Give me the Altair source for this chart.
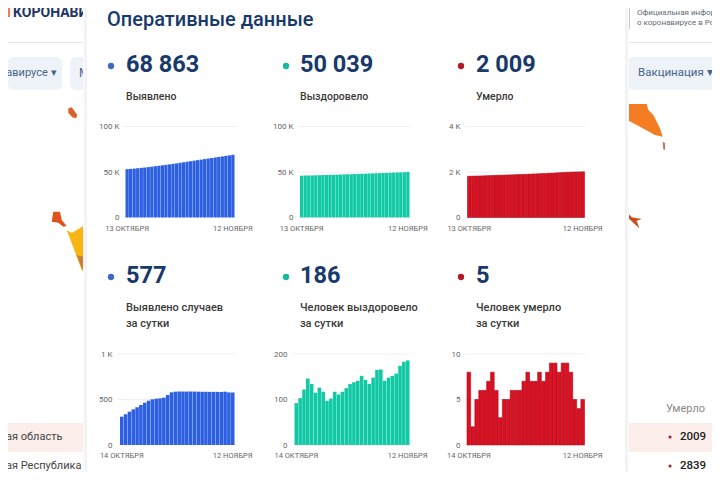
import altair as alt

OCT = [f"{d} ОКТЯБРЯ" for d in range(13, 32)]
NOV = [f"{d} НОЯБРЯ" for d in range(1, 13)]
DAYS_31 = OCT + NOV
DAYS_30 = DAYS_31[1:]

TOTAL_CASES = [53122, 53433, 53771, 54137, 54529, 54943, 55383, 55848, 56335, 56837, 57346,
               57859, 58379, 58928, 59507, 60093, 60681, 61269, 61856, 62444, 63031, 63617,
               64202, 64787, 65371, 65955, 66539, 67122, 67708, 68286, 68863]
TOTAL_RECOVERED = [45953, 46045, 46148, 46270, 46416, 46550, 46665, 46791, 46908, 47005, 47107,
                   47224, 47335, 47452, 47577, 47711, 47849, 47990, 48142, 48285, 48419, 48567,
                   48732, 48898, 49039, 49187, 49339, 49496, 49670, 49853, 50039]
TOTAL_DEATHS = [1812, 1820, 1822, 1827, 1833, 1839, 1846, 1854, 1860, 1863, 1868, 1873, 1879,
                1885, 1891, 1898, 1906, 1913, 1920, 1928, 1935, 1943, 1952, 1961, 1969, 1978,
                1987, 1995, 2000, 2004, 2009]
DAILY_CASES = [311, 338, 366, 392, 414, 440, 465, 487, 502, 509, 513, 520, 549, 579, 586, 588,
               588, 587, 588, 587, 586, 585, 585, 584, 584, 584, 583, 586, 578, 577]
DAILY_RECOVERED = [92, 103, 122, 146, 134, 115, 126, 117, 97, 102, 117, 111, 117, 125, 134, 138,
                   141, 152, 143, 134, 148, 165, 166, 141, 148, 152, 157, 174, 183, 186]
DAILY_DEATHS = [8, 2, 5, 6, 6, 7, 8, 6, 3, 5, 5, 6, 6, 6, 7, 8, 7, 7, 8, 7, 8, 9, 9, 8, 9, 9, 8, 5, 4, 5]

BLUE, TEAL, RED = "#2d5fe3", "#12c9a6", "#dd0f20"
NAVY = "#17396b"
FONT = "Roboto"
M = 8  # page margin
W, H = 704, 464


def P(v):
    return v - M


ONE = alt.Data(values=[{"a": 1}])


def text(s, x, y, size=11, color="#333333", weight="normal", align="left", font=FONT):
    return alt.Chart(ONE).mark_text(
        align=align, baseline="middle", fontSize=size, fontWeight=weight, font=font, color=color
    ).encode(x=alt.value(P(x)), y=alt.value(P(y)), text=alt.value(s))


def box(x, x2, y, y2, color, opacity=1.0, radius=0):
    return alt.Chart(ONE).mark_rect(color=color, opacity=opacity, cornerRadius=radius).encode(
        x=alt.value(P(x)), x2=alt.value(P(x2)), y=alt.value(P(y)), y2=alt.value(P(y2))
    )


def dot(x, y, color, size=40):
    return alt.Chart(ONE).mark_point(filled=True, color=color, size=size, opacity=1).encode(
        x=alt.value(P(x)), y=alt.value(P(y))
    )


def blob(path, x, y, half, color):
    return alt.Chart(ONE).mark_point(
        shape=path, filled=True, color=color, size=(2 * half) ** 2, opacity=1
    ).encode(x=alt.value(P(x)), y=alt.value(P(y)))


def panel(days, values, ticks, color, x0, x1, base, top, label_right, label_y, stroke=None):
    data = alt.Data(values=[{"d": d, "v": v} for d, v in zip(days, values)])
    yscale = alt.Scale(domain=[0, ticks[-1]], range=[P(base), P(top)], nice=False)
    xscale = alt.Scale(domain=days, range=[P(x0), P(x1)], paddingInner=0.07, paddingOuter=0)
    grid = alt.Chart(alt.Data(values=[{"v": t} for t in ticks[1:]])).mark_rule(
        color="#f0f0f0", strokeWidth=1
    ).encode(
        x=alt.value(P(x0 - 2)), x2=alt.value(P(x1 + 1)),
        y=alt.Y("v:Q", scale=yscale, axis=None),
    )
    bars = alt.Chart(data).mark_bar(color=color, **({"stroke": stroke, "strokeWidth": 0.6} if stroke else {})).encode(
        x=alt.X(
            "d:N", sort=days, scale=xscale, title=None,
            axis=alt.Axis(
                orient="bottom", values=[days[0], days[-1]], labelAngle=0, domain=False, ticks=False,
                grid=False, labelFont=FONT, labelFontSize=7.5, labelColor="#666666", labelPadding=0,
                labelBaseline="top", labelOverlap=False, labelFlush=False,
                offset=P(label_y) - H, zindex=1,
            ),
        ),
        y=alt.Y(
            "v:Q", scale=yscale, title=None,
            axis=alt.Axis(
                orient="left", values=ticks, domain=False, ticks=False, grid=False, labelFont=FONT,
                labelFontSize=8, labelColor="#666666", labelPadding=0, offset=-P(label_right), zindex=1,
                labelExpr="datum.value >= 1000 ? (datum.value / 1000) + ' K' : datum.value",
            ),
        ),
    )
    return [grid, bars]


MAP_TOP_LEFT = "M-0.7,-0.78L-0.13,-0.95L0.8,0.33L0.58,0.88L-0.03,0.72L-0.7,-0.05Z"
MAP_RED_LEFT = "M-0.71,-0.91L0.125,-0.91L0.34,0.125L0.96,0.875L0.54,0.96L-0.09,0.46L-0.91,0.34Z"
MAP_YELLOW = "M-0.39,-0.79L-0.18,-0.67L0.375,-1L0.4,-0.1L0.375,1L0.24,0.875L0.03,0.32L-0.18,-0.25Z"
MAP_BROWN = "M-0.43,-0.9L0.23,-0.73L0.47,-0.1L0.4,0.9L0.07,0.4Z"
MAP_RIGHT = "M-0.95,-0.8L0.135,-0.8L0.215,-0.5L0.465,-0.25L0.8,0.415L0.935,0.835L0.55,0.75L-0.2,0.335L-0.835,0L-0.95,-0.25Z"
MAP_TAIL = "M-0.29,-0.96L0.22,-0.67L0.22,0.89L-0.15,0.73Z"
MAP_LOW = "M-0.8,-0.9L-0.13,-0.17L0.87,0L0.37,0.17L0.63,0.93L0.03,0.37L-0.47,-0.07L-0.8,-0.4Z"

layers = [
    box(8, 720, 8, 480, "#ffffff"),
    # header and navigation outside the panel
    box(8, 720, 42, 43, "#e6e6e6"),
    box(8, 62, 57, 90, "#eef3fa", radius=6),
    box(70, 95, 57, 90, "#eef3fa", radius=6),
    box(628, 718, 57, 90, "#eef3fa", radius=6),
    box(628, 630, 8, 29, "#c9c9c9"),
    text("П", 1, 13, size=14, color="#ef7d3c", weight="bold"),
    text("КОРОНАВИ", 13, 13, size=14, color="#1c3564", weight="bold"),
    text("навирусе ▾", 0, 73, size=11, color="#49648a"),
    text("М", 79, 73, size=12, color="#49648a"),
    text("Вакцинация ▾", 638, 73, size=11.5, color="#49648a"),
    text("Официальная инфор", 637, 13, size=8, color="#5e6b78"),
    text("о коронавирусе в Рос", 637, 23, size=8, color="#5e6b78"),
    # map fragments
    blob(MAP_TOP_LEFT, 72.5, 113, 6, "#d9622a"),
    blob(MAP_RED_LEFT, 59, 219, 8, "#e2521f"),
    blob(MAP_YELLOW, 76, 249, 24, "#f9b512"),
    blob(MAP_BROWN, 81, 264, 10, "#c97f35"),
    blob(MAP_RIGHT, 644, 120, 20, "#f47c22"),
    blob(MAP_TAIL, 664, 146, 4.5, "#b9765a"),
    blob(MAP_LOW, 633, 219, 10, "#c9501e"),
    # table rows
    box(8, 720, 423, 452, "#fbeeeb"),
    text("кая область", 0, 437, size=11, color="#444444"),
    text("кая Республика", 0, 466, size=11, color="#444444"),
    text("Умерло", 666, 409, size=11, color="#8a8a8a"),
    dot(670, 437, "#a32033", size=10),
    dot(670, 466, "#a32033", size=10),
    text("2009", 680, 437, size=11.5, color="#222222", weight=500),
    text("2839", 680, 466, size=11.5, color="#222222", weight=500),
    # white panel with a soft shadow
    box(83, 629, 8, 480, "#f8f8f8"),
    box(85, 627, 8, 480, "#f2f2f2"),
    box(87, 625, 8, 480, "#ffffff"),
    text("Оперативные данные", 107, 20, size=20, color=NAVY, weight=500),
]

TOP_NUMS = [("68 863", "Выявлено", 111, 126, BLUE), ("50 039", "Выздоровело", 286, 300, TEAL),
            ("2 009", "Умерло", 461, 476, RED)]
LOW_NUMS = [("577", ["Выявлено случаев", "за сутки"], 111, 126, BLUE),
            ("186", ["Человек выздоровело", "за сутки"], 286, 300, TEAL),
            ("5", ["Человек умерло", "за сутки"], 461, 476, RED)]
DOT_COLORS = {BLUE: "#3f67c8", TEAL: "#18b89c", RED: "#b01a24"}
for num, lab, bx, tx, c in TOP_NUMS:
    layers += [dot(bx, 66, DOT_COLORS[c]), text(num, tx, 65, size=23.5, color=NAVY, weight="bold"),
               text(lab, tx, 97, size=10.5, color="#3a3a3a", weight=500)]
for num, labs, bx, tx, c in LOW_NUMS:
    layers += [dot(bx, 277, DOT_COLORS[c]), text(num, tx, 276, size=23.5, color=NAVY, weight="bold"),
               text(labs[0], tx, 308, size=11, color="#3a3a3a", weight=500),
               text(labs[1], tx, 324, size=11, color="#3a3a3a", weight=500)]

layers += panel(DAYS_31, TOTAL_CASES, [0, 50000, 100000], BLUE, 125.5, 234.5, 217.5, 126.5, 119, 224)
layers += panel(DAYS_31, TOTAL_RECOVERED, [0, 50000, 100000], TEAL, 300, 409.5, 217.5, 126.5, 293, 224)
layers += panel(DAYS_31, TOTAL_DEATHS, [0, 2000, 4000], RED, 467.5, 584.5, 217.5, 126.5, 460, 224, stroke="#a50f1c")
layers += panel(DAYS_30, DAILY_CASES, [0, 500, 1000], BLUE, 120, 234.5, 445, 354, 112, 451)
layers += panel(DAYS_30, DAILY_RECOVERED, [0, 100, 200], TEAL, 294.5, 409.5, 445, 354, 287, 451)
layers += panel(DAYS_30, DAILY_DEATHS, [0, 5, 10], RED, 467, 584.5, 445, 354, 460, 451, stroke="#a50f1c")

chart = alt.layer(*layers).resolve_scale(x="independent", y="independent").resolve_axis(
    x="independent", y="independent"
).properties(
    width=W, height=H, padding=0, autosize=alt.AutoSizeParams(type="none"), background="#ffffff"
).configure_view(stroke=None)

chart.save("out.html", embed_options={"renderer": "svg", "actions": False})
